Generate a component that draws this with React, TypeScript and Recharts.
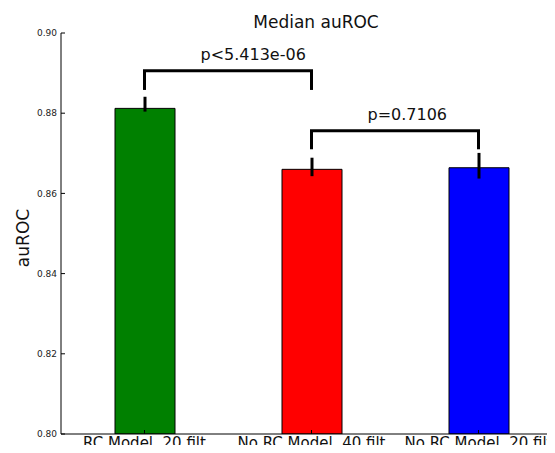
import { ComposedChart, Bar, Cell, ErrorBar, XAxis, YAxis, ReferenceLine } from "recharts";

// #region Data

const categories = ["RC Model, 20 filt", "No RC Model, 40 filt", "No RC Model, 20 filt"];
const medianAuroc = [0.8812, 0.866, 0.8664];
const errLow = [0.0008, 0.0017, 0.0027];
const errHigh = [0.0029, 0.0029, 0.0037];
const barColors = ["#008000", "#ff0000", "#0000ff"];
const yTicks = [0.8, 0.82, 0.84, 0.86, 0.88, 0.9];

// significance brackets between pairs of bars
const bracketPairs = [
    [0, 1],
    [1, 2],
];
const bracketTops = [0.8906, 0.8756];
const bracketLegBottoms = [0.8858, 0.871];
const pLabels = ["p<5.413e-06", "p=0.7106"];

// #endregion

const chartData = categories.map((name, i) => ({
    name,
    value: medianAuroc[i],
    err: [errLow[i], errHigh[i]],
}));

const font = "'DejaVu Sans', sans-serif";

// matplotlib classic style: ticks point into the plot
const LeftTick = ({ x, y, payload }: any) => (
    <g>
        <line x1={x} x2={x + 4} y1={y} y2={y} stroke="#000" />
        <text x={x - 4} y={y} dy="0.35em" textAnchor="end" fontSize={9} fill="#222" fontFamily={font}>
            {Number(payload.value).toFixed(2)}
        </text>
    </g>
);

const BottomTick = ({ x, y, payload }: any) => (
    <g>
        <line x1={x} x2={x} y1={y} y2={y - 4} stroke="#000" />
        <text x={x} y={y + 14} textAnchor="middle" fontSize={15} fill="#111" fontFamily={font}>
            {payload.value}
        </text>
    </g>
);

const TopTick = ({ x, y }: any) => <line x1={x} x2={x} y1={y} y2={y + 4} stroke="#000" />;

const PLabel = (text: string) => (props: any) => {
    const vb = props.viewBox || {};
    return (
        <text x={vb.x + 56} y={vb.y - 11} fontSize={16} fill="#111" fontFamily={font}>
            {text}
        </text>
    );
};

const App = () => {
    return (
        <div
            style={{
                position: "relative",
                width: 547,
                height: 445,
                marginBottom: -8,
                overflow: "hidden",
                fontFamily: font,
            }}
        >
            <ComposedChart
                width={570}
                height={445}
                data={chartData}
                margin={{ top: 25, right: 16, bottom: 0, left: 0 }}
            >
                <XAxis
                    dataKey="name"
                    height={19}
                    interval={0}
                    tickSize={0}
                    tickMargin={0}
                    tickLine={false}
                    axisLine={{ stroke: "#000" }}
                    tick={<BottomTick />}
                />
                <XAxis
                    xAxisId="top"
                    dataKey="name"
                    orientation="top"
                    height={0}
                    interval={0}
                    tickSize={0}
                    tickMargin={0}
                    tickLine={false}
                    axisLine={{ stroke: "#000" }}
                    tick={<TopTick />}
                />
                <YAxis
                    type="number"
                    domain={[0.8, 0.9]}
                    ticks={yTicks}
                    interval={0}
                    width={53}
                    tickSize={0}
                    tickMargin={0}
                    tickLine={false}
                    allowDataOverflow
                    axisLine={{ stroke: "#000" }}
                    tick={<LeftTick />}
                />
                <Bar dataKey="value" barSize={60} stroke="#000" strokeWidth={1} isAnimationActive={false}>
                    {chartData.map((d, i) => (
                        <Cell key={d.name} fill={barColors[i]} />
                    ))}
                    <ErrorBar dataKey="err" width={0} stroke="#000" strokeWidth={3} isAnimationActive={false} />
                </Bar>
                {bracketPairs.map(([a, b], i) => (
                    <ReferenceLine
                        key={"h" + i}
                        segment={[
                            { x: categories[a], y: bracketTops[i] },
                            { x: categories[b], y: bracketTops[i] },
                        ]}
                        stroke="#000"
                        strokeWidth={3}
                        strokeLinecap="square"
                        label={PLabel(pLabels[i])}
                    />
                ))}
                {bracketPairs.flatMap(([a, b], i) =>
                    [a, b].map((c) => (
                        <ReferenceLine
                            key={"v" + i + "-" + c}
                            segment={[
                                { x: categories[c], y: bracketLegBottoms[i] },
                                { x: categories[c], y: bracketTops[i] },
                            ]}
                            stroke="#000"
                            strokeWidth={3}
                        />
                    ))
                )}
            </ComposedChart>
            <svg
                width={547}
                height={445}
                style={{ position: "absolute", left: 0, top: 0, pointerEvents: "none" }}
            >
                <text x={308} y={20} textAnchor="middle" fontSize={17} fill="#111" fontFamily={font}>
                    Median auROC
                </text>
                <text
                    x={21}
                    y={230}
                    textAnchor="middle"
                    fontSize={17}
                    fill="#111"
                    fontFamily={font}
                    transform="rotate(-90 21 230)"
                >
                    auROC
                </text>
            </svg>
        </div>
    );
};

export default App;
